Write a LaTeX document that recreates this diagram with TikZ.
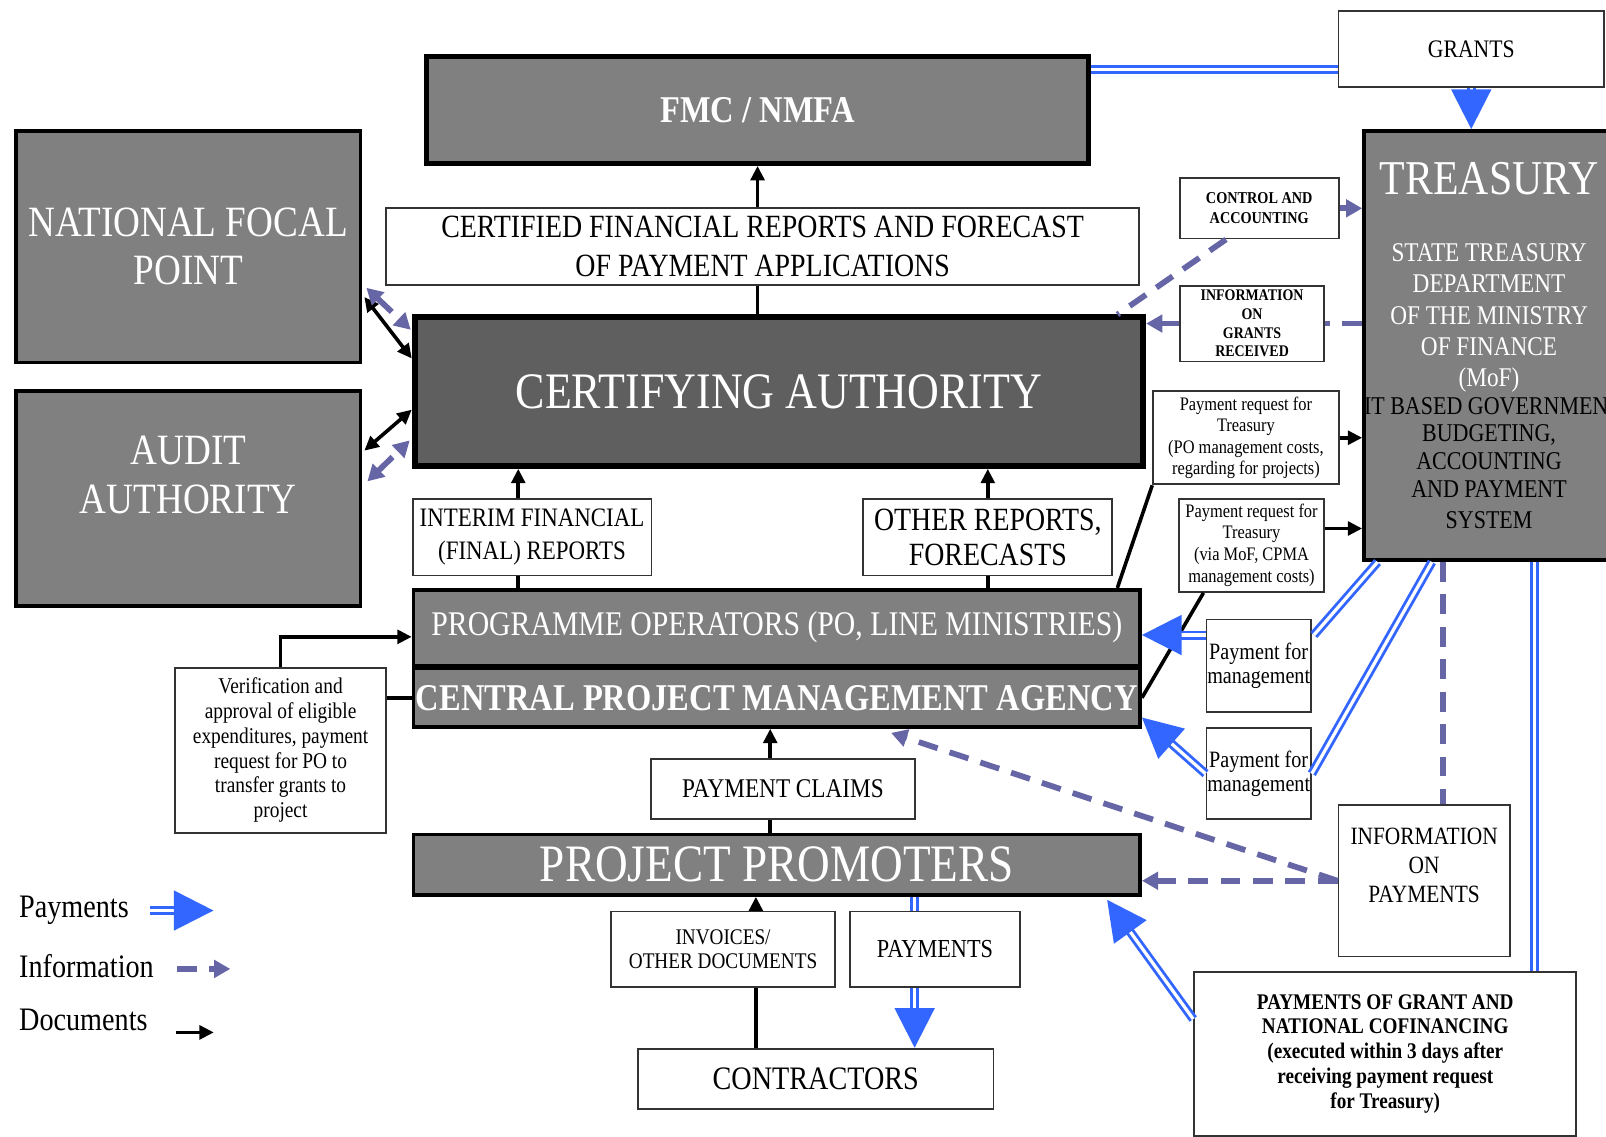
\documentclass[tikz,border=0pt]{standalone}
\usepackage{fontspec}
\setmainfont{Liberation Serif}[FakeStretch=0.86]
\usetikzlibrary{arrows.meta,positioning,calc}
\definecolor{boxgray}{RGB}{128,128,128}
\definecolor{authgray}{RGB}{95,95,95}
\definecolor{paybl}{RGB}{51,102,255}
\definecolor{infovio}{RGB}{102,102,166}
\newcommand{\fs}[2]{\fontsize{#1}{#2}\selectfont}

\begin{document}
\begin{tikzpicture}[
  x=0.01cm, y=-0.01cm,
  gbox/.style={draw=black,line width=1pt,fill=boxgray,text=white,align=center,inner sep=0pt,anchor=north west},
  wbox/.style={draw=black!80,line width=0.5pt,fill=white,align=center,inner sep=0pt,anchor=north west},
  lgd/.style={anchor=west,inner sep=0pt,font=\fs{9.1}{10}},
  docline/.style={black,line width=1pt},
  doc/.style={docline,-{Triangle[length=4pt,width=3.8pt]}},
  doctwo/.style={docline,{Triangle[length=4pt,width=3.8pt]}-{Triangle[length=4pt,width=3.8pt]}},
  infoline/.style={infovio,line width=1.6pt,dash pattern=on 5.5pt off 3.5pt},
  info/.style={infoline,-{Triangle[length=4.5pt,width=4.8pt]}},
  infotwo/.style={infoline,{Triangle[length=4.5pt,width=4.8pt]}-{Triangle[length=4.5pt,width=4.8pt]}},
  payline/.style={paybl,double=white,double distance=0.9pt,line width=0.8pt},
  pay/.style={payline,-{Triangle[length=11pt,width=11pt]}}]
  \clip (0,0) rectangle (1568,1110);
  \fill[white] (0,0) rectangle (1568,1110);

  \node[wbox,minimum width=25.9mm,minimum height=7.4mm,font=\fs{7}{8}] (grants) at (1306,10) {GRANTS};
  \node[gbox,line width=1.4pt,minimum width=64.6mm,minimum height=10.4mm,font=\bfseries\fs{10.5}{12}] (fmc) at (414,53) {FMC / NMFA};
  \node[gbox,minimum width=24.4mm,minimum height=41.9mm,text width=24.4mm,align=flush center,font=\fs{7.5}{8.65}] (treas) at (1330,126)
    {{\fs{13.5}{16}TREASURY}\\[10pt]
     STATE TREASURY\\DEPARTMENT\\OF THE MINISTRY\\OF FINANCE\\(MoF)\\
     {\color{black}\fs{7.1}{7.7}\mbox{IT BASED GOVERNMENT}\\BUDGETING,\\ACCOUNTING\\AND PAYMENT\\SYSTEM}};
  \node[gbox,minimum width=33.6mm,minimum height=22.6mm,font=\fs{12}{13.4}] (nfp) at (14,126) {NATIONAL FOCAL\\POINT};
  \node[gbox,minimum width=33.6mm,minimum height=21mm,text depth=13pt,font=\fs{12}{13.6}] (aa) at (14,380) {AUDIT\\AUTHORITY};
  \node[wbox,minimum width=73.5mm,minimum height=7.5mm,font=\fs{9}{10.8}] (cert) at (376,202) {CERTIFIED FINANCIAL REPORTS AND FORECAST\\OF PAYMENT APPLICATIONS};
  \node[gbox,fill=authgray,line width=1.6pt,minimum width=71.1mm,minimum height=14.5mm,font=\fs{14.2}{16}] (ca) at (402,307) {CERTIFYING AUTHORITY};
  \node[wbox,minimum width=15.5mm,minimum height=5.9mm,font=\bfseries\fs{4.6}{5.4}] (ctrl) at (1151,173) {CONTROL AND\\ACCOUNTING};
  \node[wbox,minimum width=14.1mm,minimum height=7.4mm,font=\bfseries\fs{4.5}{5.2}] (ingr) at (1151,278) {INFORMATION\\ON\\GRANTS\\RECEIVED};
  \node[wbox,minimum width=18.1mm,minimum height=9.1mm,font=\fs{5.3}{5.9}] (preq1) at (1125,381) {Payment request for\\Treasury\\(PO management costs,\\regarding for projects)};
  \node[wbox,minimum width=14.2mm,minimum height=9.1mm,font=\fs{5.3}{6.1}] (preq2) at (1150,486) {Payment request for\\Treasury\\(via MoF, CPMA\\management costs)};
  \node[wbox,minimum width=23.3mm,minimum height=7.5mm,font=\fs{7.4}{9}] (interim) at (402,486) {INTERIM FINANCIAL\\(FINAL) REPORTS};
  \node[wbox,minimum width=24.3mm,minimum height=7.5mm,font=\fs{9}{9.7}] (other) at (842,486) {OTHER REPORTS,\\FORECASTS};
  \node[gbox,minimum width=70.9mm,minimum height=7.4mm,font=\fs{9.6}{11}] (po) at (402,574) {PROGRAMME OPERATORS (PO, LINE MINISTRIES)};
  \node[gbox,minimum width=70.9mm,minimum height=5.7mm,font=\bfseries\fs{10.5}{12}] (cpma) at (402,651) {CENTRAL PROJECT MANAGEMENT AGENCY};
  \node[wbox,minimum width=20.6mm,minimum height=16.1mm,font=\fs{6.25}{6.9}] (verif) at (170,651) {Verification and\\approval of eligible\\expenditures, payment\\request for PO to\\transfer grants to\\project};
  \node[wbox,minimum width=25.7mm,minimum height=5.9mm,font=\fs{7.5}{9}] (claims) at (635,740) {PAYMENT CLAIMS};
  \node[gbox,minimum width=70.9mm,minimum height=5.9mm,font=\fs{14.6}{16}] (pp) at (402,813) {PROJECT PROMOTERS};
  \node[wbox,minimum width=10.2mm,minimum height=9mm,font=\fs{6.5}{6.8}] (pfm1) at (1177,604) {Payment for\\management};
  \node[wbox,minimum width=10.2mm,minimum height=8.9mm,font=\fs{6.5}{6.8}] (pfm2) at (1177,710) {Payment for\\management};
  \node[wbox,minimum width=16.7mm,minimum height=14.8mm,text depth=8.6pt,font=\fs{6.9}{8}] (infop) at (1306,785) {INFORMATION\\ON\\PAYMENTS};
  \node[wbox,minimum width=37.3mm,minimum height=16mm,font=\bfseries\fs{6.2}{6.9}] (pgrant) at (1165,948) {PAYMENTS OF GRANT AND\\NATIONAL COFINANCING\\(executed within 3 days after\\receiving payment request\\for Treasury)};
  \node[wbox,minimum width=21.8mm,minimum height=7.4mm,font=\fs{6.2}{6.8}] (invoices) at (596,889) {INVOICES/\\OTHER DOCUMENTS};
  \node[wbox,minimum width=16.6mm,minimum height=7.4mm,font=\fs{7.2}{8}] (payments) at (829,889) {PAYMENTS};
  \node[wbox,minimum width=34.7mm,minimum height=5.9mm,font=\fs{9.1}{10}] (contr) at (622,1023) {CONTRACTORS};

  \node[lgd] (lpay) at (18,889) {Payments};
  \node[lgd] (linfo) at (18,943) {Information};
  \node[lgd] (ldoc) at (18,996) {Documents};

  \coordinate (tq1) at ($(treas.south west)+(15,0)$);
  \coordinate (tq2) at ($(treas.south west)+(68,0)$);
  \coordinate (tq3) at ($(treas.south west)+(79,0)$);
  \coordinate (tq4) at ($(treas.south west)+(168,0)$);

  \draw[payline] ($(fmc.north east)+(0,15)$) -- ($(grants.north west)+(0,58)$);
  \draw[pay] (grants.south) -- (treas.north -| grants.south);
  \draw[doc] (cert.north -| fmc.south) -- (fmc.south);
  \draw[docline] (ca.north -| fmc.south) -- (cert.south -| fmc.south);

  \draw[doctwo] ($(nfp.north east)+(2,164)$) -- ($(ca.north west)+(0,43)$);
  \draw[infotwo] ($(nfp.north east)+(4,155)$) -- ($(ca.north west)+(-1,15)$);
  \draw[doctwo] ($(aa.north east)+(2,60)$) -- ($(ca.north west)+(0,93)$);
  \draw[infotwo] ($(aa.north east)+(5,90)$) -- ($(ca.north west)+(-2,123)$);

  \draw[info] (ctrl.east) -- (treas.west |- ctrl.east);
  \draw[infoline] ($(ctrl.south west)+(46,0)$) -- ($(ca.north east)+(-28,0)$);
  \draw[infoline] (treas.west |- ingr.east) -- (ingr.east);
  \draw[info] (ingr.west) -- (ca.east |- ingr.west);
  \draw[doc] (preq1.east) -- (treas.west |- preq1.east);
  \draw[doc] ($(preq2.north east)+(0,30)$) -- ($(treas.north west)+(0,390)$);
  \draw[docline] ($(po.north east)+(-24,0)$) -- (preq1.south west);
  \draw[docline] (cpma.east) -- ($(preq2.south west)+(25,0)$);

  \draw[doc] ($(interim.north west)+(104,0)$) -- ($(ca.south west)+(104,0)$);
  \draw[docline] ($(interim.south west)+(104,0)$) -- ($(po.north west)+(104,0)$);
  \draw[doc] (other.north) -- (ca.south -| other.north);
  \draw[docline] (other.south) -- (po.north -| other.south);

  \draw[doc] (verif.north) |- ($(po.west)+(0,9)$);
  \draw[docline] (verif.east |- cpma.west) -- (cpma.west);
  \draw[doc] ($(claims.north west)+(117,0)$) -- ($(cpma.south west)+(350,0)$);
  \draw[docline] ($(claims.south west)+(117,0)$) -- ($(pp.north west)+(350,0)$);

  \draw[payline] (tq1) -- ($(pfm1.north east)+(2,16)$);
  \draw[pay] ($(pfm1.north west)+(0,16)$) -- ($(po.north east)+(0,46)$);
  \draw[payline] (tq2) -- (pfm2.east);
  \draw[pay] (pfm2.west) -- ($(cpma.south east)+(0,-11)$);
  \draw[infoline] (tq3) -- (infop.north -| tq3);
  \draw[info] (infop.west) -- (pp.east |- infop.west);
  \draw[info] (infop.west) -- ($(cpma.south west)+(468,4)$);
  \draw[payline] (tq4) -- (pgrant.north -| tq4);
  \draw[pay] ($(pgrant.north west)+(0,47)$) -- ($(pp.south east)+(-34,3)$);

  \draw[payline] ($(pp.south west)+(491,0)$) -- ($(payments.north west)+(64,0)$);
  \draw[pay] ($(payments.south west)+(64,0)$) -- ($(contr.north west)+(271,0)$);
  \draw[doc] ($(invoices.north west)+(142,0)$) -- ($(pp.south west)+(336,0)$);
  \draw[docline] ($(contr.north west)+(116,0)$) -- ($(invoices.south west)+(142,0)$);

  \draw[pay] ([xshift=2mm]lpay.east) -- ++(62,0);
  \draw[info] ([xshift=2.2mm,yshift=-0.3mm]linfo.east) -- ++(52,0);
  \draw[doc] ([xshift=2.7mm,yshift=-1.2mm]ldoc.east) -- ++(37,0);
\end{tikzpicture}
\end{document}
